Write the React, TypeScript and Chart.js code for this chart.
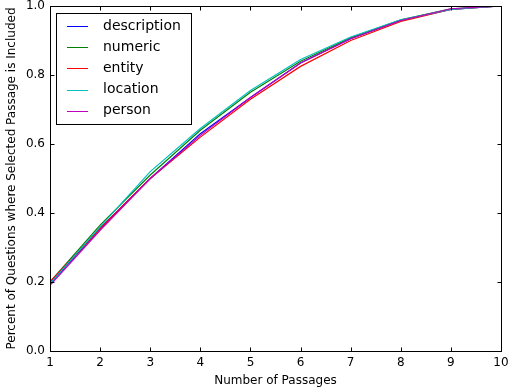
import React, { useEffect, useRef } from "react";
import { Chart, registerables } from "chart.js";

Chart.register(...registerables);

const passages = [1, 2, 3, 4, 5, 6, 7, 8, 9, 10];
const description = [0.195, 0.355, 0.5, 0.63, 0.735, 0.835, 0.905, 0.958, 0.99, 1.0];
const numeric = [0.2, 0.365, 0.51, 0.64, 0.75, 0.84, 0.908, 0.96, 0.992, 1.0];
const entity = [0.2, 0.355, 0.5, 0.62, 0.73, 0.825, 0.9, 0.955, 0.99, 1.0];
const location = [0.195, 0.36, 0.52, 0.645, 0.755, 0.845, 0.91, 0.96, 0.99, 1.0];
const person = [0.19, 0.35, 0.5, 0.625, 0.735, 0.835, 0.905, 0.958, 0.992, 1.0];
const seriesNames = ["description", "numeric", "entity", "location", "person"];
const seriesValues = [description, numeric, entity, location, person];
const seriesColors = ["#0000ff", "#008000", "#ff0000", "#00bfbf", "#bf00bf"];
const xTicks = [1, 2, 3, 4, 5, 6, 7, 8, 9, 10];
const yTicks = [0, 0.2, 0.4, 0.6, 0.8, 1.0];

const FONT = "'DejaVu Sans', sans-serif";

const framePlugin = {
  id: "frameTicksLegend",
  afterDraw(chart: any) {
    const ctx = chart.ctx;
    const a = chart.chartArea;
    const xs = chart.scales.x;
    const ys = chart.scales.y;
    ctx.save();
    ctx.strokeStyle = "#000";
    ctx.lineWidth = 1;
    const L = Math.round(a.left) + 0.5;
    const R = Math.round(a.right) + 0.5;
    const T = Math.round(a.top) + 0.5;
    const B = Math.round(a.bottom) + 0.5;
    ctx.strokeRect(L, T, R - L, B - T);
    const tl = 4;
    ctx.beginPath();
    for (const v of xTicks) {
      const px = Math.round(xs.getPixelForValue(v)) + 0.5;
      ctx.moveTo(px, B);
      ctx.lineTo(px, B - tl);
      ctx.moveTo(px, T);
      ctx.lineTo(px, T + tl);
    }
    for (const v of yTicks) {
      const py = Math.round(ys.getPixelForValue(v)) + 0.5;
      ctx.moveTo(L, py);
      ctx.lineTo(L + tl, py);
      ctx.moveTo(R, py);
      ctx.lineTo(R - tl, py);
    }
    ctx.stroke();

    // legend
    const bx = 56.5, by = 13.5, bw = 135, bh = 111;
    ctx.fillStyle = "#fff";
    ctx.fillRect(bx, by, bw, bh);
    ctx.strokeStyle = "#000";
    ctx.strokeRect(bx, by, bw, bh);
    ctx.font = "14px " + FONT;
    ctx.textBaseline = "middle";
    ctx.textAlign = "left";
    seriesNames.forEach((name, i) => {
      const yy = 26 + i * 21.2;
      ctx.strokeStyle = seriesColors[i];
      ctx.beginPath();
      ctx.moveTo(67, Math.round(yy) + 0.5);
      ctx.lineTo(88, Math.round(yy) + 0.5);
      ctx.stroke();
      ctx.fillStyle = "#000";
      ctx.fillText(name, 103, yy);
    });
    ctx.restore();
  },
};

export default function App() {
  const ref = useRef<HTMLCanvasElement | null>(null);
  useEffect(() => {
    document.body.style.margin = "0";
    const chart = new Chart(ref.current as HTMLCanvasElement, {
      type: "line",
      data: {
        labels: passages,
        datasets: seriesNames.map((name, i) => ({
          label: name,
          data: passages.map((p, j) => ({ x: p, y: seriesValues[i][j] })),
          borderColor: seriesColors[i],
          backgroundColor: seriesColors[i],
          borderWidth: 1.2,
          pointRadius: 0,
          tension: 0,
          fill: false,
          order: seriesNames.length - i,
        })),
      },
      options: {
        animation: false,
        responsive: false,
        layout: { padding: { top: 6, right: 7, left: 0, bottom: 0 } },
        plugins: { legend: { display: false }, tooltip: { enabled: false } },
        scales: {
          x: {
            type: "linear",
            min: 1,
            max: 10,
            afterFit: (s: any) => {
              s.height = 41;
              s.paddingLeft = 0;
              s.paddingRight = 0;
            },
            afterBuildTicks: (s: any) => { s.ticks = xTicks.map((v) => ({ value: v })); },
            grid: { display: false, drawTicks: false },
            border: { display: false },
            ticks: {
              padding: 5,
              color: "#000",
              font: { family: FONT, size: 12 },
              callback: (v: any) => String(v),
              maxRotation: 0,
            },
            title: {
              display: true,
              text: "Number of Passages",
              color: "#000",
              font: { family: FONT, size: 12 },
              padding: { top: 0, bottom: 4 },
            },
          },
          y: {
            type: "linear",
            min: 0,
            max: 1,
            afterFit: (s: any) => {
              s.width = 50;
              s.paddingTop = 0;
              s.paddingBottom = 0;
            },
            afterBuildTicks: (s: any) => { s.ticks = yTicks.map((v) => ({ value: v })); },
            grid: { display: false, drawTicks: false },
            border: { display: false },
            ticks: {
              padding: 5,
              color: "#000",
              font: { family: FONT, size: 12 },
              callback: (v: any) => Number(v).toFixed(1),
            },
            title: {
              display: true,
              text: "Percent of Questions where Selected Passage is Included",
              color: "#000",
              font: { family: FONT, size: 12 },
              padding: { top: 5, bottom: 0 },
            },
          },
        },
      },
      plugins: [framePlugin],
    } as any);
    return () => chart.destroy();
  }, []);
  return (
    <div style={{ position: "absolute", left: 0, top: 0, width: 508, height: 392, background: "#fff" }}>
      <canvas ref={ref} width={508} height={392} style={{ width: 508, height: 392 }} />
    </div>
  );
}
